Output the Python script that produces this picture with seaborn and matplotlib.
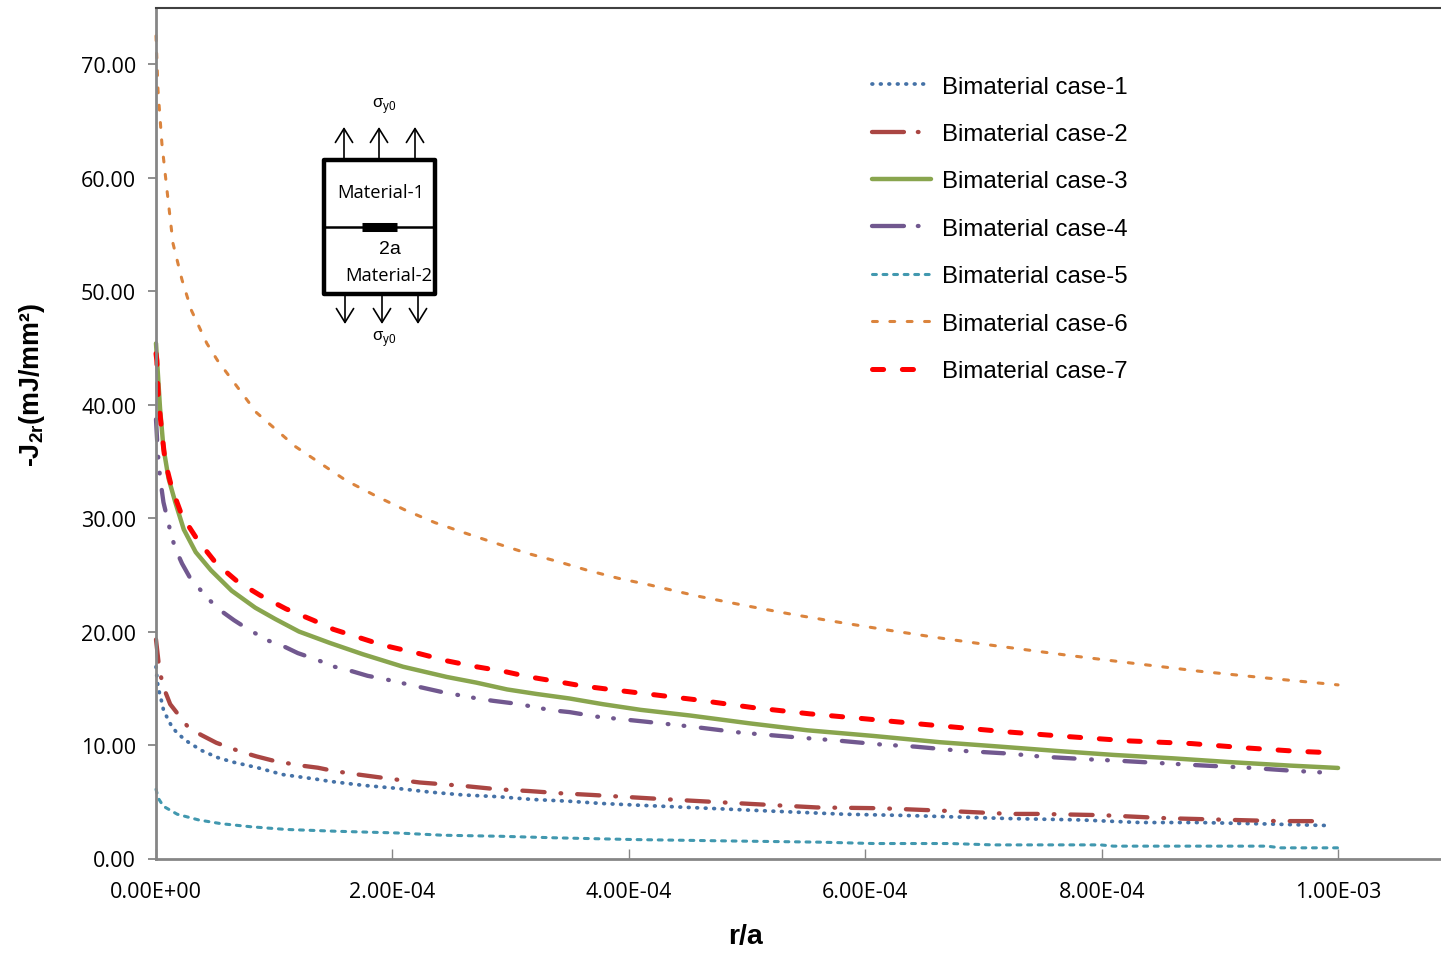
import pandas as pd
import seaborn as sns
import matplotlib.pyplot as plt
from matplotlib.lines import Line2D
from matplotlib.patches import Rectangle

# Data
case_names = ["Bimaterial case-1", "Bimaterial case-2", "Bimaterial case-3", "Bimaterial case-4",
              "Bimaterial case-5", "Bimaterial case-6", "Bimaterial case-7"]

case1_x = [0, 0.6e-6, 1.4e-6, 2.9e-6, 4.6e-6, 6.3e-6, 9.5e-6, 1.3e-5, 1.75e-5, 2.3e-5, 2.8e-5, 3.9e-5,
           5.2e-5, 6.5e-5, 8.6e-5, 1.07e-4, 1.35e-4, 1.47e-4, 1.75e-4, 2.02e-4, 2.32e-4, 2.6e-4, 2.89e-4,
           3.19e-4, 3.49e-4, 3.77e-4, 4.14e-4, 4.66e-4, 5.22e-4, 5.83e-4, 6.35e-4, 7.22e-4, 7.82e-4,
           8.32e-4, 8.83e-4, 9.37e-4, 9.93e-4]
case1_y = [16.9, 16.2, 15.4, 14.6, 13.9, 13.1, 12.4, 11.7, 11.1, 10.6, 10.2, 9.5,
           8.9, 8.5, 8.0, 7.4, 7.0, 6.8, 6.45, 6.2, 5.85, 5.6, 5.45,
           5.2, 5.05, 4.85, 4.67, 4.43, 4.17, 3.9, 3.79, 3.52, 3.4,
           3.17, 3.17, 3.05, 2.9]

case2_x = [0, 2.9e-6, 6.3e-6, 1.2e-5, 2.7e-5, 3.8e-5, 5.1e-5, 7.2e-5, 8.5e-5, 1e-4, 1.22e-4, 1.37e-4,
           1.51e-4, 1.71e-4, 2e-4, 2.23e-4, 2.6e-4, 2.89e-4, 3.15e-4, 3.42e-4, 3.69e-4, 4.18e-4, 4.52e-4,
           5.05e-4, 5.59e-4, 6.13e-4, 6.68e-4, 7.22e-4, 7.46e-4, 8e-4, 8.55e-4, 9.1e-4, 9.48e-4, 9.9e-4]
case2_y = [19.3, 16.6, 15.1, 13.6, 11.6, 10.9, 10.2, 9.4, 9.0, 8.6, 8.2, 8.0,
           7.7, 7.4, 7.0, 6.7, 6.4, 6.1, 5.95, 5.75, 5.6, 5.3, 5.1,
           4.8, 4.5, 4.43, 4.2, 3.93, 3.93, 3.82, 3.55, 3.4, 3.3, 3.29]

case3_x = [0, 3.4e-6, 6.3e-6, 1.06e-5, 1.63e-5, 2.35e-5, 3.36e-5, 4.65e-5, 6.4e-5, 8.4e-5, 1.01e-4,
           1.21e-4, 1.47e-4, 1.75e-4, 2.09e-4, 2.46e-4, 2.71e-4, 2.97e-4, 3.22e-4, 3.5e-4, 3.78e-4, 4.1e-4,
           4.52e-4, 5.03e-4, 5.51e-4, 6.07e-4, 6.63e-4, 7.14e-4, 7.62e-4, 8.1e-4, 8.6e-4, 9.11e-4, 9.59e-4, 1e-3]
case3_y = [45.4, 39.7, 36.2, 33.5, 31.4, 29.0, 27.0, 25.4, 23.6, 22.1, 21.1,
           20.0, 19.0, 18.0, 16.9, 16.0, 15.5, 14.9, 14.5, 14.1, 13.6, 13.1,
           12.6, 11.9, 11.3, 10.8, 10.25, 9.86, 9.48, 9.13, 8.83, 8.48, 8.19, 7.98]

case4_x = [0, 1.4e-6, 2.6e-6, 4.3e-6, 6.3e-6, 1.2e-5, 1.6e-5, 2.2e-5, 2.9e-5, 4.4e-5, 5.4e-5, 6.6e-5,
           7.8e-5, 9.5e-5, 1.08e-4, 1.2e-4, 1.34e-4, 1.51e-4, 1.66e-4, 1.79e-4, 1.94e-4, 2.15e-4, 2.45e-4,
           2.59e-4, 2.72e-4, 2.85e-4, 3.08e-4, 3.22e-4, 3.36e-4, 3.5e-4, 3.73e-4, 3.87e-4, 4.01e-4, 4.15e-4,
           4.55e-4, 4.94e-4, 5.45e-4, 5.76e-4, 6.13e-4, 6.42e-4, 6.8e-4, 7.21e-4, 7.49e-4, 7.87e-4,
           8.17e-4, 8.56e-4, 8.85e-4, 9.24e-4, 9.59e-4, 9.89e-4]
case4_y = [38.7, 36.0, 34.4, 32.9, 31.4, 28.9, 27.4, 26.0, 24.7, 22.9, 21.9, 21.0,
           20.2, 19.2, 18.7, 18.1, 17.6, 16.9, 16.5, 16.1, 15.8, 15.3, 14.6,
           14.35, 14.1, 13.9, 13.6, 13.3, 13.05, 12.9, 12.5, 12.35, 12.2, 12.05,
           11.6, 11.1, 10.65, 10.4, 10.05, 9.86, 9.5, 9.25, 8.98, 8.75,
           8.6, 8.37, 8.2, 8.0, 7.75, 7.57]

case5_x = [0, 2e-6, 6.3e-6, 1.8e-5, 3.6e-5, 5.5e-5, 8e-5, 1.1e-4, 1.53e-4, 2.04e-4, 2.43e-4, 2.91e-4,
           3.39e-4, 4.04e-4, 4.83e-4, 5.62e-4, 6.07e-4, 6.72e-4, 7.08e-4, 7.99e-4, 8.1e-4, 9.4e-4, 9.51e-4, 1e-3]
case5_y = [6.1, 5.3, 4.6, 3.9, 3.4, 3.07, 2.8, 2.56, 2.4, 2.25, 2.05, 1.96,
           1.82, 1.67, 1.55, 1.44, 1.32, 1.32, 1.2, 1.2, 1.09, 1.09, 0.94, 0.94]

case6_x = [0, 1.7e-6, 5e-6, 9.3e-6, 1.44e-5, 2.2e-5, 3e-5, 4.3e-5, 5.2e-5, 8.5e-5, 1.18e-4, 1.61e-4,
           1.87e-4, 2.11e-4, 2.36e-4, 2.61e-4, 2.87e-4, 3.14e-4, 3.39e-4, 3.65e-4, 3.91e-4, 4.18e-4,
           4.57e-4, 4.98e-4, 5.39e-4, 5.79e-4, 6.21e-4, 6.62e-4, 7.03e-4, 7.72e-4, 8.27e-4, 8.83e-4, 9.4e-4, 1e-3]
case6_y = [72.5, 67.7, 63.0, 58.9, 54.2, 51.0, 48.3, 45.4, 43.9, 39.3, 36.3, 33.3,
           31.9, 30.7, 29.6, 28.7, 27.8, 26.9, 26.2, 25.4, 24.7, 24.1,
           23.15, 22.3, 21.5, 20.8, 20.1, 19.45, 18.85, 17.9, 17.2, 16.5, 15.9, 15.3]

case7_x = [0, 0.7e-6, 2e-6, 4.9e-6, 7.7e-6, 1.35e-5, 2.2e-5, 3.5e-5, 5.1e-5, 6.9e-5, 8.8e-5, 1.1e-4,
           1.33e-4, 1.5e-4, 1.71e-4, 1.92e-4, 2.23e-4, 2.47e-4, 2.71e-4, 2.94e-4, 3.16e-4, 3.39e-4, 3.61e-4,
           3.84e-4, 4.12e-4, 4.56e-4, 5.05e-4, 5.53e-4, 6.01e-4, 6.52e-4, 7.21e-4, 7.72e-4, 8.24e-4,
           8.76e-4, 9.23e-4, 9.65e-4, 9.92e-4]
case7_y = [44.5, 43.9, 40.6, 37.6, 35.0, 32.6, 30.2, 28.1, 26.0, 24.4, 23.2, 22.0,
           21.0, 20.2, 19.5, 18.8, 18.05, 17.4, 16.9, 16.5, 16.0, 15.6, 15.2,
           14.9, 14.55, 14.0, 13.3, 12.75, 12.3, 11.8, 11.15, 10.74, 10.36,
           10.13, 9.74, 9.45, 9.33]

all_x = [case1_x, case2_x, case3_x, case4_x, case5_x, case6_x, case7_x]
all_y = [case1_y, case2_y, case3_y, case4_y, case5_y, case6_y, case7_y]

x_ticks = [0, 2e-4, 4e-4, 6e-4, 8e-4, 1e-3]
x_tick_labels = ["0.00E+00", "2.00E-04", "4.00E-04", "6.00E-04", "8.00E-04", "1.00E-03"]
y_ticks = [0, 10, 20, 30, 40, 50, 60, 70]

colors = ["#4572A7", "#AA4643", "#89A54E", "#71588F", "#4198AF", "#DB843D", "#FF0000"]
widths = [2.7, 3.1, 3.2, 3.1, 2.2, 2.2, 3.6]
# dash patterns in points, curves and legend differ a bit
patterns = [(0.5, 5.6), (16, 11.5, 0.5, 11.5), "", (15, 12, 0.5, 11, 0.5, 12),
            (2.8, 4.8), (3.5, 9), (8, 13.5)]
legend_patterns = [(0.5, 5.6), (23, 10, 0.5, 30), "", (23, 10, 0.5, 30),
                   (2.8, 4.8), (3.5, 9), (8, 13.5)]


def make_frame():
    frames = []
    for name, xs, ys in zip(case_names, all_x, all_y):
        frames.append(pd.DataFrame({"r": xs, "J": ys, "case": name}))
    return pd.concat(frames, ignore_index=True)


# the little specimen sketch, drawn in picture pixels
def draw_sketch(fig):
    sk = fig.add_axes([0, 0, 1, 1])
    sk.set_xlim(0, 1441)
    sk.set_ylim(954, 0)
    sk.axis("off")
    sk.patch.set_alpha(0)
    sk.add_patch(Rectangle((324, 160.5), 111, 134, fill=False, ec="black", lw=3.2, joinstyle="round"))
    sk.plot([324, 435], [227.5, 227.5], color="black", lw=1.8)
    sk.plot([362, 397], [227.5, 227.5], color="black", lw=6.5, solid_capstyle="butt")
    arrow = dict(arrowstyle="->,head_length=1.0,head_width=0.62", color="black", lw=1.2, shrinkA=0, shrinkB=0)
    for x in [344, 379, 415]:
        sk.annotate("", xy=(x, 128), xytext=(x, 160), arrowprops=arrow)
    for x in [345, 382, 418]:
        sk.annotate("", xy=(x, 325), xytext=(x, 294), arrowprops=arrow)
    sk.text(381, 192.5, "Material-1", ha="center", va="center", fontsize=13.2, family="Open Sans")
    sk.text(389, 276.5, "Material-2", ha="center", va="center", fontsize=13.2, family="Open Sans")
    sk.text(390, 250, "2a", ha="center", va="center", fontsize=14)
    sk.text(384, 106, "σ$_{\\mathrm{y0}}$", ha="center", va="center", fontsize=12)
    sk.text(384, 339, "σ$_{\\mathrm{y0}}$", ha="center", va="center", fontsize=12)


def line_plot(df):
    sns.set_style("white")
    plt.rcParams["font.family"] = ["Liberation Sans", "DejaVu Sans"]
    plt.rcParams["mathtext.fontset"] = "custom"
    plt.rcParams["mathtext.rm"] = "Liberation Sans"
    plt.rcParams["mathtext.bf"] = "Liberation Sans:bold"
    plt.rcParams["lines.scale_dashes"] = False
    plt.rcParams["text.color"] = "black"
    plt.rcParams["axes.labelcolor"] = "black"

    fig = plt.figure(figsize=(14.41, 9.54), dpi=100)
    ax = fig.add_axes([156 / 1441, 94.5 / 954, 1285 / 1441, 851 / 954])

    # each case gets its own call so it can have its own width
    for name, color, width, pattern in zip(case_names, colors, widths, patterns):
        sns.lineplot(data=df[df.case == name], x="r", y="J", ax=ax, color=color, linewidth=width,
                     dashes=pattern if pattern else False, estimator=None, sort=False, legend=False,
                     dash_capstyle="round", solid_capstyle="round", clip_on=False)

    ax.set_xlim(0, 1.0871e-3)
    ax.set_ylim(0, 75)
    ax.set_xticks(x_ticks)
    ax.set_xticklabels(x_tick_labels, family="Open Sans")
    ax.set_yticks(y_ticks)
    ax.set_yticklabels(["%.2f" % v for v in y_ticks], family="Open Sans")
    ax.tick_params(axis="y", direction="out", length=5.8, width=1.3, color="#868686",
                   labelsize=15.5, labelcolor="black", pad=8.5, left=True)
    ax.tick_params(axis="x", direction="in", length=7, width=1, color="#868686",
                   labelsize=15.5, labelcolor="black", pad=16, bottom=True)

    sns.despine(ax=ax, right=True, top=False)
    ax.spines["left"].set_color("#868686")
    ax.spines["left"].set_linewidth(2)
    ax.spines["bottom"].set_color("#868686")
    ax.spines["bottom"].set_linewidth(2)
    ax.spines["top"].set_color("#404040")
    ax.spines["top"].set_linewidth(1.5)

    ax.set_xlabel("r/a", fontsize=20.5, fontweight="bold", va="center")
    ax.set_ylabel("-J$_{\\mathbf{2r}}$(mJ/mm²)", fontsize=19.4, fontweight="bold", va="center")
    ax.xaxis.set_label_coords((745 - 156) / 1285, -78 / 851)
    ax.yaxis.set_label_coords((32 - 156) / 1285, (859 - 384) / 851)

    # legend handles get their own dash so the one dot shows like the original
    handles = []
    for color, width, pattern in zip(colors, widths, legend_patterns):
        line = Line2D([], [], color=color, lw=width, dash_capstyle="round", solid_capstyle="round")
        if pattern:
            line.set_dashes(pattern)
        handles.append(line)
    ax.legend(handles, case_names, loc="upper left", bbox_to_anchor=(716 / 1285, (851 - 68) / 851),
              frameon=False, fontsize=17.3, handlelength=2.45, handletextpad=0.45, labelspacing=1.06,
              borderpad=0, borderaxespad=0)

    draw_sketch(fig)
    fig.savefig("out.png", dpi=100)


line_plot(make_frame())
